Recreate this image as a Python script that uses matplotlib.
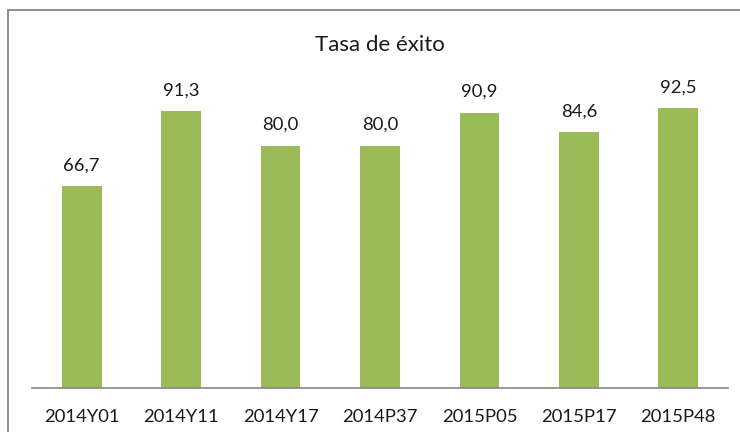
import matplotlib
matplotlib.use("Agg")
import matplotlib.pyplot as plt
from matplotlib.patches import Rectangle

categories = ["2014Y01", "2014Y11", "2014Y17", "2014P37", "2015P05", "2015P17", "2015P48"]
values = [66.7, 91.3, 80.0, 80.0, 90.9, 84.6, 92.5]
title = "Tasa de éxito"

W, H = 740, 432
fig = plt.figure(figsize=(W / 100, H / 100), dpi=100)
plt.rcParams['font.family'] = ['Lato', 'DejaVu Sans']

# outer border (partially cropped in reference)
fig.patches.append(Rectangle((8 / W, -0.1), 1.2, 1 - 10 / H + 0.1, transform=fig.transFigure,
                             fill=False, edgecolor="#868686", linewidth=1.3))

ax = fig.add_axes([32 / W, (H - 388) / H, (728 - 32) / W, (388 - 85) / H])
x = range(len(categories))
bars = ax.bar(x, values, width=0.4, color="#9BBB59")
ax.set_xlim(-0.5, len(categories) - 0.5)
ax.set_ylim(0, 100)
for s in ["top", "right", "left"]:
    ax.spines[s].set_visible(False)
ax.spines["bottom"].set_color("#868686")
ax.spines["bottom"].set_linewidth(1.2)
ax.set_yticks([])
ax.set_xticks(list(x))
ax.set_xticklabels(categories, fontsize=13.3, color="#1a1a1a")
ax.tick_params(axis="x", length=0, pad=15)

for xi, v in zip(x, values):
    ax.annotate(f"{v:.1f}".replace(".", ","), (xi, v), xytext=(0, 9), textcoords="offset points",
                ha="center", va="bottom", fontsize=13.3, color="#1a1a1a")

fig.text((313 + 447) / 2 / W, 1 - 45 / H, title, ha="center", va="center", fontsize=16, color="#1a1a1a")

fig.savefig("out.png", dpi=100)
